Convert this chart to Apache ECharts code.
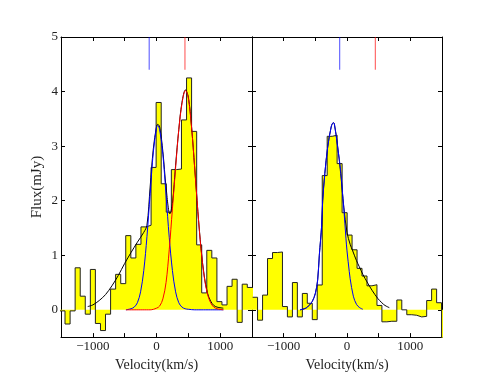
<!DOCTYPE html>
<html>
<head>
<meta charset="utf-8">
<script src="https://cdn.jsdelivr.net/npm/echarts@6/dist/echarts.min.js"></script>
<style>
    html, body { margin: 0; padding: 0; background: #fff; }
    #chart { width: 491px; height: 377px; }
</style>
</head>
<body>
<div id="chart"></div>
<script>
// --- left panel: spectrum bins (left edges in km/s, last value closes the last bin) ---
var leftEdges = [-1516, -1437, -1357, -1278, -1198, -1119, -1039, -960, -880, -801,
    -721, -642, -562, -483, -403, -324, -244, -165, -85, -6,
    74, 153, 233, 313, 392, 472, 551, 631, 710, 790,
    869, 949, 1028, 1108, 1187, 1267, 1346, 1426, 1530];
var leftFlux = [-0.02, -0.26, -0.02, 0.77, 0.25, -0.08, 0.74, -0.25, -0.38, -0.08,
    0.38, 0.65, 0.48, 1.36, 0.95, 1.2, 1.52, 1.55, 2.61, 3.80,
    2.31, 1.79, 2.57, 2.58, 3.48, 4.25, 3.27, 1.19, 0.31, 1.09,
    0.95, 0.15, 0.09, 0.43, 0.56, -0.23, 0.47, 0.41];

// --- right panel: spectrum bins ---
var rightEdges = [-1490, -1412, -1333, -1255, -1176, -1098, -1019, -941, -862, -784,
    -705, -627, -548, -470, -391, -313, -234, -156, -77, 2,
    80, 159, 237, 316, 394, 473, 551, 630, 708, 787,
    865, 944, 1022, 1101, 1179, 1258, 1336, 1415, 1493, 1600];
var rightFlux = [0.23, -0.19, 0.27, 0.94, 1.05, 1.06, 0.06, -0.13, 0.5, -0.13,
    0.30, 0.12, -0.18, 0.455, 2.46, 3.18, 3.2, 2.68, 1.78, 1.37,
    1.1, 0.76, 0.62, 0.44, 0.46, 0.08, -0.22, -0.21, -0.21, 0.18,
    0.0, -0.09, -0.1, -0.13, -0.12, 0.17, 0.38, 0.13, -0.6];

// --- fitted curves ---
var blueLeftV = [-480, -400, -350, -300, -250, -200, -150, -100, -50, 0, 20, 50, 100, 150, 200, 250, 300, 350, 400, 450, 500, 600, 1050];
var blueLeftF = [0, 0.02, 0.05, 0.13, 0.33, 0.72, 1.34, 2.13, 2.89, 3.34, 3.38, 3.3, 2.85, 2.1, 1.33, 0.72, 0.33, 0.13, 0.05, 0.02, 0.01, 0, 0];

var redLeftV = [-480, -100, 0, 50, 100, 150, 200, 250, 300, 350, 400, 455, 500, 550, 600, 650, 700, 750, 800, 850, 900, 950, 1050];
var redLeftF = [0, 0, 0.03, 0.07, 0.2, 0.5, 1.1, 1.85, 2.6, 3.3, 3.78, 4.02, 3.88, 3.35, 2.6, 1.8, 1.1, 0.6, 0.29, 0.13, 0.05, 0.02, 0];

var blackLeftV = [-1080, -1000, -900, -800, -700, -600, -500, -400, -300, -200, -150, -100, -50, 0, 20, 50, 100, 150, 211, 250, 300, 350, 400, 455, 500, 550, 600, 650, 700, 750, 800, 850, 900, 950, 1050];
var blackLeftF = [0.06, 0.09, 0.17, 0.28, 0.44, 0.63, 0.85, 1.05, 1.24, 1.42, 1.55, 2.25, 2.95, 3.36, 3.4, 3.35, 2.9, 2.25, 1.76, 1.95, 2.65, 3.3, 3.8, 4.03, 3.9, 3.36, 2.6, 1.8, 1.12, 0.62, 0.31, 0.16, 0.08, 0.05, 0.03];

var blueRightV = [-740, -650, -600, -550, -500, -463, -437, -400, -384, -350, -305, -250, -216, -200, -150, -100, -68, -50, -16, 0, 36, 50, 100, 150, 200, 250];
var blueRightF = [0, 0.03, 0.08, 0.15, 0.3, 0.55, 1.0, 1.55, 2.0, 2.5, 2.98, 3.35, 3.43, 3.41, 3.0, 2.55, 2.1, 1.85, 1.3, 1.08, 0.7, 0.57, 0.25, 0.1, 0.04, 0.01];

var blackRightV = [-740, -650, -600, -550, -500, -463, -437, -400, -384, -350, -305, -250, -216, -200, -150, -100, -50, 0, 50, 90, 150, 194, 250, 327, 400, 485, 550, 600, 668];
var blackRightF = [0, 0.03, 0.08, 0.15, 0.3, 0.55, 1.0, 1.55, 2.0, 2.5, 2.98, 3.35, 3.43, 3.41, 3.02, 2.5, 1.88, 1.42, 1.2, 1.08, 0.9, 0.79, 0.65, 0.49, 0.35, 0.21, 0.13, 0.08, 0.04];

// line positions of the two components (top markers)
var markerV = [-115, 447];
var markerLow = 4.4;
var markerHigh = 5;

var xTicks = [-1000, -500, 0, 500, 1000];
var xLabels = [-1000, 0, 1000];
var yTicks = [0, 1, 2, 3, 4, 5];

var FONT = "Liberation Serif";

function pairs(xs, ys) {
    return xs.map(function (x, i) { return [x, ys[i]]; });
}

function histData(edges, flux) {
    var d = flux.map(function (f, i) { return [edges[i], f]; });
    d.push([edges[edges.length - 1], flux[flux.length - 1]]);
    return d;
}

function minus(v) {
    return v < 0 ? "\u2212" + Math.abs(v) : String(v);
}

function xAxis(grid, pos, withLabels) {
    var ax = {
        type: "value", gridIndex: grid, position: pos,
        min: -1500, max: 1500,
        axisLine: { onZero: false, lineStyle: { color: "#000", width: 1 } },
        axisTick: { inside: true, length: 4, customValues: xTicks, lineStyle: { color: "#000" } },
        axisLabel: { show: false },
        splitLine: { show: false }
    };
    if (withLabels) {
        ax.axisLabel = {
            show: true, customValues: xLabels, formatter: minus,
            fontFamily: FONT, fontSize: 13, color: "#222", margin: 3
        };
        ax.name = "Velocity(km/s)";
        ax.nameLocation = "middle";
        ax.nameGap = 10;
        ax.nameTextStyle = { fontFamily: FONT, fontSize: 14, color: "#222" };
    }
    return ax;
}

function yAxis(grid, pos, withLabels) {
    var ax = {
        type: "value", gridIndex: grid, position: pos,
        min: -0.5, max: 5,
        axisLine: { show: true, onZero: false, lineStyle: { color: "#000", width: 1 } },
        axisTick: { show: true, inside: true, length: 4, customValues: yTicks, lineStyle: { color: "#000" } },
        axisLabel: { show: false },
        splitLine: { show: false }
    };
    if (withLabels) {
        ax.axisLabel = {
            show: true, customValues: yTicks,
            fontFamily: FONT, fontSize: 13, color: "#222", margin: 3
        };
        ax.name = "Flux(mJy)";
        ax.nameLocation = "middle";
        ax.nameGap = 16;
        ax.nameTextStyle = { fontFamily: FONT, fontSize: 15, color: "#222" };
    }
    return ax;
}

function curve(xi, yi, data, color) {
    return {
        type: "line", xAxisIndex: xi, yAxisIndex: yi, data: data,
        smooth: 0.35, symbol: "none", silent: true, z: 3,
        lineStyle: { color: color, width: 1 }
    };
}

function hist(xi, yi, data) {
    return {
        type: "line", xAxisIndex: xi, yAxisIndex: yi, data: data,
        step: "end", symbol: "none", silent: true, z: 2,
        lineStyle: { color: "#222", width: 1 },
        areaStyle: { color: "#ffff00", opacity: 1, origin: 0 }
    };
}

function marker(xi, yi, v, color) {
    return {
        type: "line", xAxisIndex: xi, yAxisIndex: yi,
        data: [[v, markerLow], [v, markerHigh]],
        symbol: "none", silent: true, z: 3,
        lineStyle: { color: color, width: 1 }
    };
}

var chart = echarts.init(document.getElementById("chart"), null, { renderer: "canvas" });

var option = {
    animation: false,
    backgroundColor: "#fff",
    grid: [
        { left: 61, top: 37, width: 191, height: 302 },
        { left: 252, top: 37, width: 190, height: 302 }
    ],
    xAxis: [xAxis(0, "bottom", true), xAxis(0, "top", false), xAxis(1, "bottom", true), xAxis(1, "top", false)],
    yAxis: [yAxis(0, "left", true), yAxis(0, "right", false), yAxis(1, "left", false), yAxis(1, "right", false)],
    series: [
        hist(0, 0, histData(leftEdges, leftFlux)),
        curve(0, 0, pairs(blackLeftV, blackLeftF), "#000"),
        curve(0, 0, pairs(blueLeftV, blueLeftF), "#0000ff"),
        curve(0, 0, pairs(redLeftV, redLeftF), "#ff0000"),
        marker(0, 0, markerV[0], "rgba(0,0,255,0.7)"),
        marker(0, 0, markerV[1], "rgba(255,0,0,0.7)"),

        hist(2, 2, histData(rightEdges, rightFlux)),
        curve(2, 2, pairs(blackRightV, blackRightF), "#000"),
        curve(2, 2, pairs(blueRightV, blueRightF), "#0000ff"),
        marker(2, 2, markerV[0], "rgba(0,0,255,0.7)"),
        marker(2, 2, markerV[1], "rgba(255,0,0,0.7)")
    ]
};

chart.setOption(option);
</script>
</body>
</html>
